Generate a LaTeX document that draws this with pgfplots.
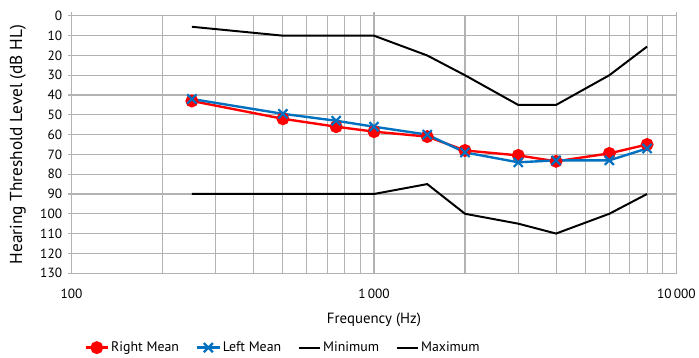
\documentclass[border=0pt]{standalone}
\usepackage{fontspec}
\setmainfont{PT Sans}
\usepackage{pgfplots}
\pgfplotsset{compat=1.18}
\definecolor{rmean}{RGB}{255,0,0}
\definecolor{lmean}{RGB}{0,112,192}
\definecolor{gridc}{RGB}{178,178,178}
\pgfplotsset{
  longmark/.style={legend image code/.code={\draw[mark repeat=2,mark phase=2,##1] plot coordinates {(0cm,0cm) (0.4cm,0cm) (0.8cm,0cm)};}},
  longline/.style={legend image code/.code={\draw[##1] (0cm,0cm) -- (0.75cm,0cm);}},
}
\begin{document}
\begin{tikzpicture}
\begin{axis}[
  scale only axis,
  width=609bp, height=259bp,
  xmode=log, xmin=100, xmax=10000,
  ymin=0, ymax=130, y dir=reverse,
  ytick={0,10,...,130},
  xtick={100,1000,10000},
  xticklabels={100,1\,000,10\,000},
  minor xtick={200,300,400,500,600,700,800,900,2000,3000,4000,5000,6000,7000,8000,9000},
  grid=both,
  major grid style={gridc, line width=1.1pt},
  minor grid style={gridc, line width=1.1pt},
  axis line style={gridc, line width=1.1pt},
  tick style={gridc, line width=1.1pt},
  minor tick length=0pt,
  major tick length=4bp,
  tick align=outside,
  xtick pos=upper, xticklabel pos=lower,
  ytick pos=left,
  /pgf/number format/assume math mode=true,
  ticklabel style={font=\fontsize{13.5}{15}\selectfont, black},
  yticklabel style={xshift=-2bp},
  xticklabel style={yshift=-8bp},
  xlabel={Frequency (Hz)},
  ylabel={Hearing Threshold Level (dB HL)},
  xlabel style={font=\fontsize{15}{17}\selectfont, at={(axis description cs:0.5,-0.1815)}, anchor=center},
  ylabel style={font=\fontsize{17.5}{19}\selectfont, at={(axis description cs:-0.0887,0.5)}, anchor=center},
  legend columns=4,
  legend style={draw=none, at={(0.016,-0.2896)}, anchor=west, font=\fontsize{14}{16}\selectfont,
    /tikz/every even column/.append style={column sep=15bp}},
  legend cell align=left,
]
\addplot[rmean, line width=2.4pt, mark=*, mark size=5.5bp, mark options={solid, line width=2pt}, longmark] coordinates {
  (250,43) (500,52) (750,56) (1000,58.5) (1500,61) (2000,68) (3000,70.5) (4000,73.5) (6000,69.5) (8000,65)};
\addlegendentry{Right Mean}
\addplot[lmean, line width=2.4pt, mark=x, mark size=6.5bp, mark options={solid, line width=2.2pt}, longmark] coordinates {
  (250,42) (500,49.5) (750,53) (1000,56) (1500,60) (2000,69) (3000,74) (4000,73) (6000,73) (8000,67)};
\addlegendentry{Left Mean}
\addplot[black, line width=2pt, mark=none, longline] coordinates {
  (250,5.5) (500,10) (1000,10) (1500,20) (2000,30) (3000,45) (4000,45) (6000,30) (8000,15.5)};
\addlegendentry{Minimum}
\addplot[black, line width=2pt, mark=none, longline] coordinates {
  (250,90) (500,90) (1000,90) (1500,85) (2000,100) (3000,105) (4000,110) (6000,100) (8000,90)};
\addlegendentry{Maximum}
\end{axis}
\path ([xshift=-72bp,yshift=16bp]current axis.north west) rectangle ([xshift=18bp,yshift=-83bp]current axis.south east);
\end{tikzpicture}
\end{document}
